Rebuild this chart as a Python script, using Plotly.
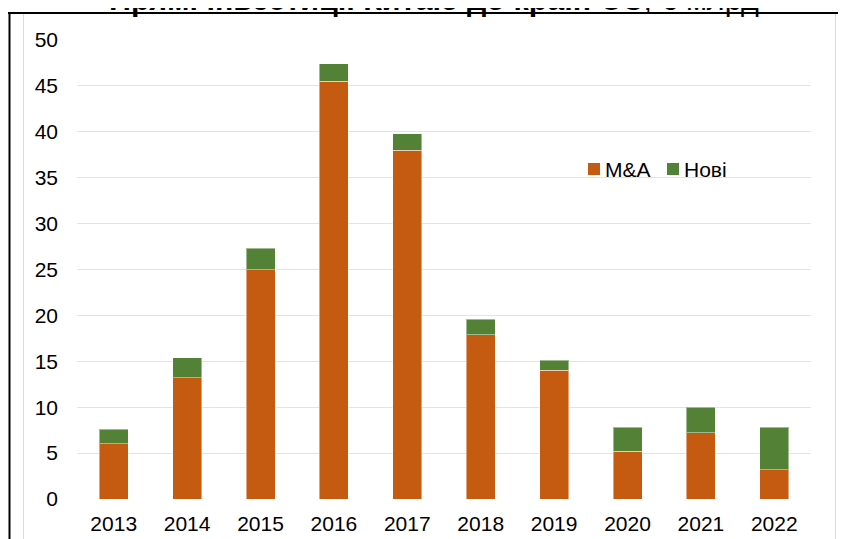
import plotly.graph_objects as go

# ---------------- data ----------------
years = ["2013", "2014", "2015", "2016", "2017", "2018", "2019", "2020", "2021", "2022"]
ma_values = [6.0, 13.2, 25.0, 45.5, 38.0, 17.9, 14.0, 5.2, 7.2, 3.2]
new_values = [1.6, 2.2, 2.3, 1.9, 1.8, 1.7, 1.1, 2.6, 2.8, 4.6]
y_ticks = [0, 5, 10, 15, 20, 25, 30, 35, 40, 45, 50]
series_names = ["M&A", "Нові"]
title_bold = "Прямі інвестиції Китаю до країн ЄС"
title_rest = ", € млрд"

# ---------------- layout geometry (pixels of the target view) ----------------
VIEW_W, VIEW_H = 846, 539
OFF = 8                          # page body margin
W = VIEW_W - 2 * OFF             # figure fits the window width exactly
H = VIEW_H - OFF                 # figure reaches the bottom edge of the window
L, R, T, B = 77, 811, 40, 499    # plot area in the target view


def px(x):
    return (x - L) / (R - L)


def py(y):
    return (B - y) / (B - T)


FONT = "Liberation Sans, Arial, sans-serif"
COLORS = ["#C55A11", "#538135"]
EDGE = "rgba(255,255,255,0.45)"
GREY_FRAME = "#d9d9d9"

fig = go.Figure()
for name, vals, col in zip(series_names, [ma_values, new_values], COLORS):
    fig.add_trace(go.Bar(
        x=years, y=vals, name=name, showlegend=False,
        marker=dict(color=col, line=dict(color=EDGE, width=1)),
    ))


def seg(x0, y0, x1, y1, color, width):
    return dict(type="line", xref="paper", yref="paper",
                x0=px(x0), x1=px(x1), y0=py(y0), y1=py(y1),
                line=dict(color=color, width=width))


shapes = [
    # light grey inner frame (left, top, right)
    seg(23.5, 14, 23.5, 539, GREY_FRAME, 1),
    seg(835.5, 14, 835.5, 539, GREY_FRAME, 1),
    # black outer frame: top and left edges
    seg(8, 13, 846, 13, "black", 2),
    seg(9.5, 12, 9.5, 539, "black", 2),
]

annotations = [
    dict(text="<b>" + title_bold + "</b>" + title_rest,
         xref="paper", yref="paper", x=px(434), y=py(19),
         xanchor="center", yanchor="bottom", showarrow=False,
         font=dict(family=FONT, size=30.5, color="black")),
]

# legend drawn as coloured squares with labels (tight spacing as in the target)
legend_sq_left = [588, 667]
legend_text_left = [604, 683]
legend_cy = 169
for name, col, sx, tx in zip(series_names, COLORS, legend_sq_left, legend_text_left):
    shapes.append(dict(type="rect", xref="paper", yref="paper",
                       x0=px(sx), x1=px(sx + 12), y0=py(legend_cy + 6), y1=py(legend_cy - 6),
                       line=dict(width=0), fillcolor=col))
    annotations.append(dict(text=name, xref="paper", yref="paper",
                            x=px(tx - 1), y=py(legend_cy), xanchor="left", yanchor="middle",
                            showarrow=False, font=dict(family=FONT, size=21, color="black")))

fig.update_layout(
    width=W, height=H, autosize=False,
    margin=dict(l=L - OFF, r=W - (R - OFF), t=T - OFF, b=H - (B - OFF), pad=0,
                autoexpand=False),
    paper_bgcolor="white", plot_bgcolor="white",
    barmode="stack", bargap=0.605,
    font=dict(family=FONT, size=21, color="black"),
    showlegend=False,
    xaxis=dict(showgrid=False, showline=False, ticks="", tickfont=dict(size=21),
               ticklabelstandoff=10, automargin=False),
    yaxis=dict(range=[0, 50], tickvals=y_ticks, showgrid=True, gridcolor="#e3e3e3",
               gridwidth=1, zeroline=False, showline=False, ticks="",
               tickfont=dict(size=21), ticklabelstandoff=18, automargin=False),
    shapes=shapes,
    annotations=annotations,
)

fig.write_html("out.html")
